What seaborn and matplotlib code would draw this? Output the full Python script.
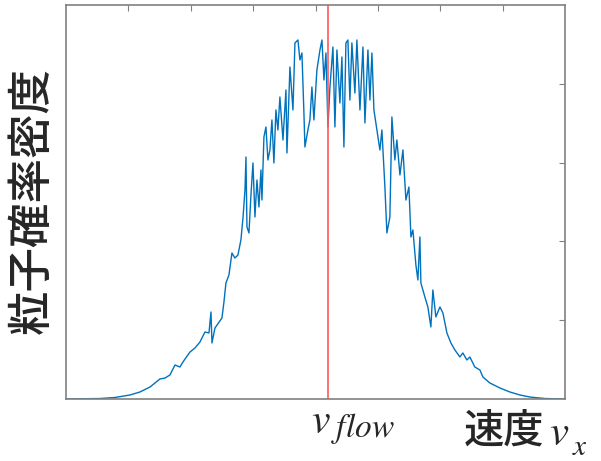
import pandas as pd
import seaborn as sns
import matplotlib.pyplot as plt

# velocity distribution (arbitrary units, box is 0..8 x 0..5)
velocity = [0.00, 0.545, 0.785, 1.026, 1.186, 1.346, 1.506, 1.587, 1.667, 1.747,
            1.827, 1.875, 1.987, 2.067, 2.147, 2.228, 2.292, 2.324, 2.340, 2.388,
            2.500, 2.532, 2.564, 2.612, 2.660, 2.708, 2.756, 2.804, 2.837, 2.869,
            2.885, 2.901, 2.933, 2.965, 2.997, 3.029, 3.061, 3.093, 3.125, 3.141,
            3.173, 3.205, 3.237, 3.269, 3.301, 3.333, 3.365, 3.397, 3.429, 3.478,
            3.526, 3.542, 3.590, 3.638, 3.670, 3.718, 3.750, 3.782, 3.814, 3.830,
            3.878, 3.910, 3.942, 3.974, 4.022, 4.071, 4.103, 4.135, 4.167, 4.199,
            4.231, 4.279, 4.311, 4.343, 4.391, 4.423, 4.455, 4.487, 4.519, 4.551,
            4.583, 4.631, 4.663, 4.712, 4.760, 4.792, 4.840, 4.872, 4.904, 4.936,
            4.984, 5.032, 5.064, 5.112, 5.144, 5.192, 5.224, 5.272, 5.304, 5.353,
            5.401, 5.449, 5.497, 5.529, 5.561, 5.609, 5.641, 5.673, 5.689, 5.753,
            5.801, 5.849, 5.881, 5.929, 5.994, 6.042, 6.106, 6.170, 6.234, 6.314,
            6.362, 6.426, 6.474, 6.554, 6.635, 6.683, 6.795, 6.955, 7.115, 7.276,
            7.436, 7.676, 8.00]
density = [0.000, 0.006, 0.019, 0.051, 0.089, 0.152, 0.254, 0.266, 0.305, 0.431,
           0.406, 0.470, 0.596, 0.647, 0.723, 0.850, 0.838, 1.104, 0.711, 0.901,
           1.028, 1.231, 1.472, 1.574, 1.853, 1.789, 1.827, 2.018, 2.297, 2.652,
           3.071, 2.183, 2.107, 2.589, 2.995, 2.310, 2.779, 2.437, 2.906, 2.525,
           3.325, 3.452, 3.033, 3.160, 3.541, 2.995, 3.668, 3.414, 3.832, 3.287,
           3.921, 3.122, 4.213, 3.668, 4.518, 4.556, 4.302, 4.391, 3.629, 3.198,
           3.414, 3.541, 3.959, 3.541, 4.175, 4.429, 4.556, 4.048, 4.391, 3.452,
           3.959, 4.467, 3.452, 4.429, 3.756, 4.340, 3.198, 4.518, 4.556, 3.794,
           4.518, 3.883, 4.556, 3.668, 4.467, 3.503, 4.429, 3.794, 4.391, 3.668,
           3.414, 3.160, 3.414, 2.690, 2.107, 2.310, 3.579, 3.033, 3.287, 2.843,
           3.160, 2.525, 2.690, 2.056, 2.145, 1.701, 1.510, 2.056, 1.472, 1.294,
           1.168, 0.914, 1.383, 1.041, 1.168, 1.091, 0.838, 0.711, 0.622, 0.533,
           0.584, 0.495, 0.533, 0.406, 0.368, 0.279, 0.203, 0.140, 0.089, 0.051,
           0.025, 0.006, 0.000]
v_flow = 4.2
x_ticks = [1, 2, 3, 4, 5, 6, 7]
y_ticks = [1, 2, 3, 4]

sns.set_style("white")
plt.rcParams['font.family'] = ['Noto Sans CJK JP', 'DejaVu Sans']
plt.rcParams['mathtext.fontset'] = 'stix'

fig = plt.figure(figsize=(6.01, 4.61), dpi=100)
ax = fig.add_axes([0.1098, 0.1345, 0.8304, 0.8547])

df = pd.DataFrame({'v': velocity, 'p': density})
sns.lineplot(data=df, x='v', y='p', sort=False, estimator=None,
             color='#0072BD', lw=1, ax=ax)
ax.axvline(v_flow, color='#ff5a5a', lw=1.2)

ax.set_xlim(0, 8)
ax.set_ylim(0, 5)
ax.set_xticks(x_ticks)
ax.set_yticks(y_ticks)
ax.tick_params(direction='in', length=4, width=0.8, color='#808080',
               top=True, right=True, labelbottom=False, labelleft=False)
for s in ax.spines.values():
    s.set_color('#808080')
    s.set_linewidth(1.2)
ax.set_xlabel('')
ax.set_ylabel('')

fig.text(0.053, 0.566, '粒子確率密度', rotation=90, fontsize=32,
         fontweight='medium', ha='center', va='center')

# v_flow label under the red line
fig.text(0.518, 0.0607, '$v$', fontsize=30, ha='left', va='baseline')
fig.text(0.551, 0.0521, '$flow$', fontsize=24, ha='left', va='baseline')

# axis label 速度 v_x
fig.text(0.772, 0.065, '速度', fontsize=29, fontweight='medium',
         ha='left', va='center')
fig.text(0.914, 0.0347, '$v$', fontsize=31, ha='left', va='baseline')
fig.text(0.952, 0.012, '$x$', fontsize=21, ha='left', va='baseline')

fig.savefig('out.png', dpi=100)
